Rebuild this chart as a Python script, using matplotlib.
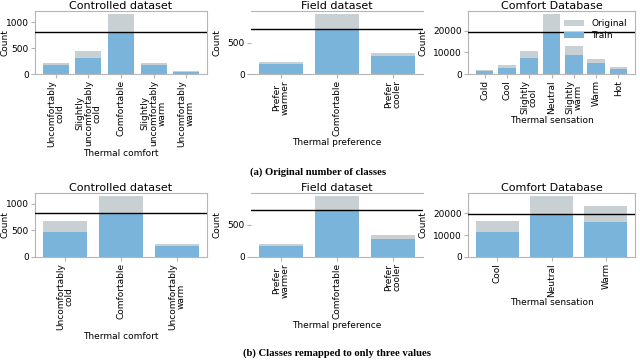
import numpy as np
import matplotlib
matplotlib.use("Agg")
import matplotlib.pyplot as plt

# --- data ---
ctrl_labels = ["Uncomfortably\ncold", "Slightly\nuncomfortably\ncold", "Comfortable",
               "Slightly\nuncomfortably\nwarm", "Uncomfortably\nwarm"]
ctrl_orig = [215, 449, 1158, 203, 51]
ctrl_train = [171, 304, 816, 171, 44]

field_labels = ["Prefer\nwarmer", "Comfortable", "Prefer\ncooler"]
field_orig = [200, 963, 342]
field_train = [168, 726, 289]

db_labels = ["Cold", "Cool", "Slightly\ncool", "Neutral", "Slightly\nwarm", "Warm", "Hot"]
db_orig = [1818, 4090, 10450, 27730, 12880, 6970, 3030]
db_train = [1515, 2880, 7576, 19545, 8940, 5000, 2270]

ctrl3_labels = ["Uncomfortably\ncold", "Comfortable", "Uncomfortably\nwarm"]
ctrl3_orig = [667, 1145, 245]
ctrl3_train = [472, 818, 214]

field3_labels = ["Prefer\nwarmer", "Comfortable", "Prefer\ncooler"]
field3_orig = [201, 938, 340]
field3_train = [170, 716, 284]

db3_labels = ["Cool", "Neutral", "Warm"]
db3_orig = [16360, 27730, 23030]
db3_train = [11360, 19545, 16060]

# cap lines (max train count)
caps = [816, 726, 19545, 818, 716, 19545]

c_orig = "#c9d0d3"
c_train = "#7ab4da"
c_spine = "#b5b5b5"

plt.rcParams["font.family"] = ["DejaVu Sans"]
plt.rcParams["font.size"] = 6.5

fig = plt.figure(figsize=(6.4, 3.61), dpi=100)

W = 640.0
H = 361.0
def box(x0, x1, y0, y1):
    return [x0 / W, 1 - y1 / H, (x1 - x0) / W, (y1 - y0) / H]

rows = [(11, 74), (193, 257)]
cols = [(35, 207), (251, 423), (468, 635)]

panels = [
    ("Controlled dataset", ctrl_labels, ctrl_orig, ctrl_train, "Thermal comfort", [0, 500, 1000]),
    ("Field dataset", field_labels, field_orig, field_train, "Thermal preference", [0, 500]),
    ("Comfort Database", db_labels, db_orig, db_train, "Thermal sensation", [0, 10000, 20000]),
    ("Controlled dataset", ctrl3_labels, ctrl3_orig, ctrl3_train, "Thermal comfort", [0, 500, 1000]),
    ("Field dataset", field3_labels, field3_orig, field3_train, "Thermal preference", [0, 500]),
    ("Comfort Database", db3_labels, db3_orig, db3_train, "Thermal sensation", [0, 10000, 20000]),
]

for i, (title, labels, orig, train, xlab, yt) in enumerate(panels):
    r, c = divmod(i, 3)
    ax = fig.add_axes(box(cols[c][0], cols[c][1], rows[r][0], rows[r][1]))
    x = np.arange(len(labels))
    ax.bar(x, orig, width=0.8, color=c_orig, label="Original")
    ax.bar(x, train, width=0.8, color=c_train, label="Train")
    ax.axhline(caps[i], color="black", lw=1.0, zorder=3)
    ax.set_xticks(x)
    ax.set_xticklabels(labels, rotation=90, ha="center", va="top", linespacing=0.95)
    ax.set_yticks(yt)
    ax.set_title(title, fontsize=8, pad=1.5)
    ax.set_xlabel(xlab, labelpad=1)
    ax.set_ylabel("Count")
    if c == 0:
        ax.yaxis.set_label_coords(-0.148, 0.5)
    ax.tick_params(length=3, color=c_spine, pad=1.5)
    for s in ax.spines.values():
        s.set_color(c_spine)
        s.set_linewidth(0.8)
    if c == 1:
        ax.spines["left"].set_visible(False)
        ax.spines["right"].set_visible(False)
    if i == 2:
        ax.legend(loc="upper right", frameon=False, fontsize=6.5,
                  borderaxespad=0.5, handlelength=2.2, labelspacing=0.35)

fig.text(318 / W, 1 - 172 / H, "(a) Original number of classes",
         ha="center", va="center", family="Liberation Serif", fontweight="bold", fontsize=7.7)
fig.text(337 / W, 1 - 353 / H, "(b) Classes remapped to only three values",
         ha="center", va="center", family="Liberation Serif", fontweight="bold", fontsize=7.7)

fig.savefig("out.png", dpi=100)
